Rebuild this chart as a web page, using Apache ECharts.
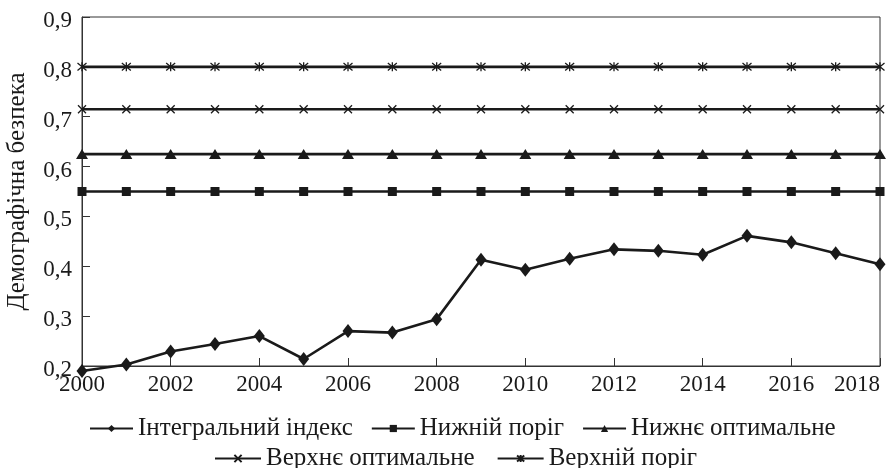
<!DOCTYPE html>
<html>
<head>
<meta charset="utf-8">
<script src="https://cdn.jsdelivr.net/npm/echarts@6/dist/echarts.min.js"></script>
<style>
html,body{margin:0;padding:0;background:#fff;}
#chart{width:891px;height:468px;}
</style>
</head>
<body>
<div id="chart"></div>
<script>
const years = ['2000','2001','2002','2003','2004','2005','2006','2007','2008','2009','2010','2011','2012','2013','2014','2015','2016','2017','2018'];
const integralIndex = [0.190,0.203,0.229,0.244,0.260,0.214,0.270,0.267,0.294,0.413,0.393,0.415,0.434,0.431,0.423,0.461,0.448,0.426,0.404];
const lowerThreshold = [0.55,0.55,0.55,0.55,0.55,0.55,0.55,0.55,0.55,0.55,0.55,0.55,0.55,0.55,0.55,0.55,0.55,0.55,0.55];
const lowerOptimal = [0.625,0.625,0.625,0.625,0.625,0.625,0.625,0.625,0.625,0.625,0.625,0.625,0.625,0.625,0.625,0.625,0.625,0.625,0.625];
const upperOptimal = [0.715,0.715,0.715,0.715,0.715,0.715,0.715,0.715,0.715,0.715,0.715,0.715,0.715,0.715,0.715,0.715,0.715,0.715,0.715];
const upperThreshold = [0.8,0.8,0.8,0.8,0.8,0.8,0.8,0.8,0.8,0.8,0.8,0.8,0.8,0.8,0.8,0.8,0.8,0.8,0.8];
const seriesNames = ['Інтегральний індекс','Нижній поріг','Нижнє оптимальне','Верхнє оптимальне','Верхній поріг'];
const yAxisName = 'Демографічна безпека';

const FONT = '"Liberation Serif", "Times New Roman", serif';
const black = '#1a1a1a';
const xSym = 'path://M0,0L10,10M10,0L0,10';
const starSym = 'path://M0,0L10,10M10,0L0,10M5,-1L5,11';

function mk(name, data, symbol, size, extra) {
  return Object.assign({
    name: name,
    type: 'line',
    data: data,
    symbol: symbol,
    symbolSize: size,
    showAllSymbol: true,
    clip: false,
    lineStyle: {color: black, width: 2.6},
    itemStyle: {color: black, borderColor: black, borderWidth: 0},
    emphasis: {disabled: true},
    animation: false
  }, extra || {});
}

const chart = echarts.init(document.getElementById('chart'), null, {renderer: 'canvas'});
chart.setOption({
  animation: false,
  backgroundColor: '#fff',
  textStyle: {fontFamily: FONT, color: black},
  grid: {left: 82, right: 11, top: 17, bottom: 102, show: true, borderColor: '#333', borderWidth: 1,
         containLabel: false, outerBoundsMode: 'none'},
  legend: [
    {
      data: seriesNames.slice(0, 3),
      top: 411, left: 84,
      itemWidth: 43, itemHeight: 9, itemGap: 18,
      textStyle: {fontFamily: FONT, fontSize: 25, color: black},
      selectedMode: false
    },
    {
      data: seriesNames.slice(3),
      top: 441, left: 209,
      itemWidth: 46, itemHeight: 9, itemGap: 22,
      textStyle: {fontFamily: FONT, fontSize: 25, color: black},
      selectedMode: false
    }
  ],
  xAxis: {
    type: 'category',
    data: years,
    boundaryGap: false,
    axisLine: {lineStyle: {color: '#333', width: 1}},
    axisTick: {inside: true, length: 8, interval: 1, lineStyle: {color: '#333'}},
    axisLabel: {interval: 1, fontFamily: FONT, fontSize: 23, color: black, margin: 7, alignMaxLabel: 'right'},
    splitLine: {show: false}
  },
  yAxis: {
    type: 'value',
    min: 0.2, max: 0.9, interval: 0.1,
    name: yAxisName,
    nameLocation: 'middle',
    nameGap: 52,
    nameTextStyle: {fontFamily: FONT, fontSize: 25, color: black},
    axisLine: {show: true, lineStyle: {color: '#333', width: 1}},
    axisTick: {show: true, inside: true, length: 8, lineStyle: {color: '#333'}},
    axisLabel: {fontFamily: FONT, fontSize: 23, color: black, margin: 10,
      verticalAlign: 'top', lineHeight: 8,
      formatter: function (v) { return v.toFixed(1).replace('.', ','); }},
    splitLine: {show: false}
  },
  series: [
    mk(seriesNames[0], integralIndex, 'diamond', [11, 14]),
    mk(seriesNames[1], lowerThreshold, 'rect', 9),
    mk(seriesNames[2], lowerOptimal, 'triangle', [12, 10]),
    mk(seriesNames[3], upperOptimal, xSym, 8, {itemStyle: {color: black, borderColor: black, borderWidth: 1.3}}),
    mk(seriesNames[4], upperThreshold, starSym, 9, {itemStyle: {color: black, borderColor: black, borderWidth: 1.3}})
  ]
});
</script>
</body>
</html>
